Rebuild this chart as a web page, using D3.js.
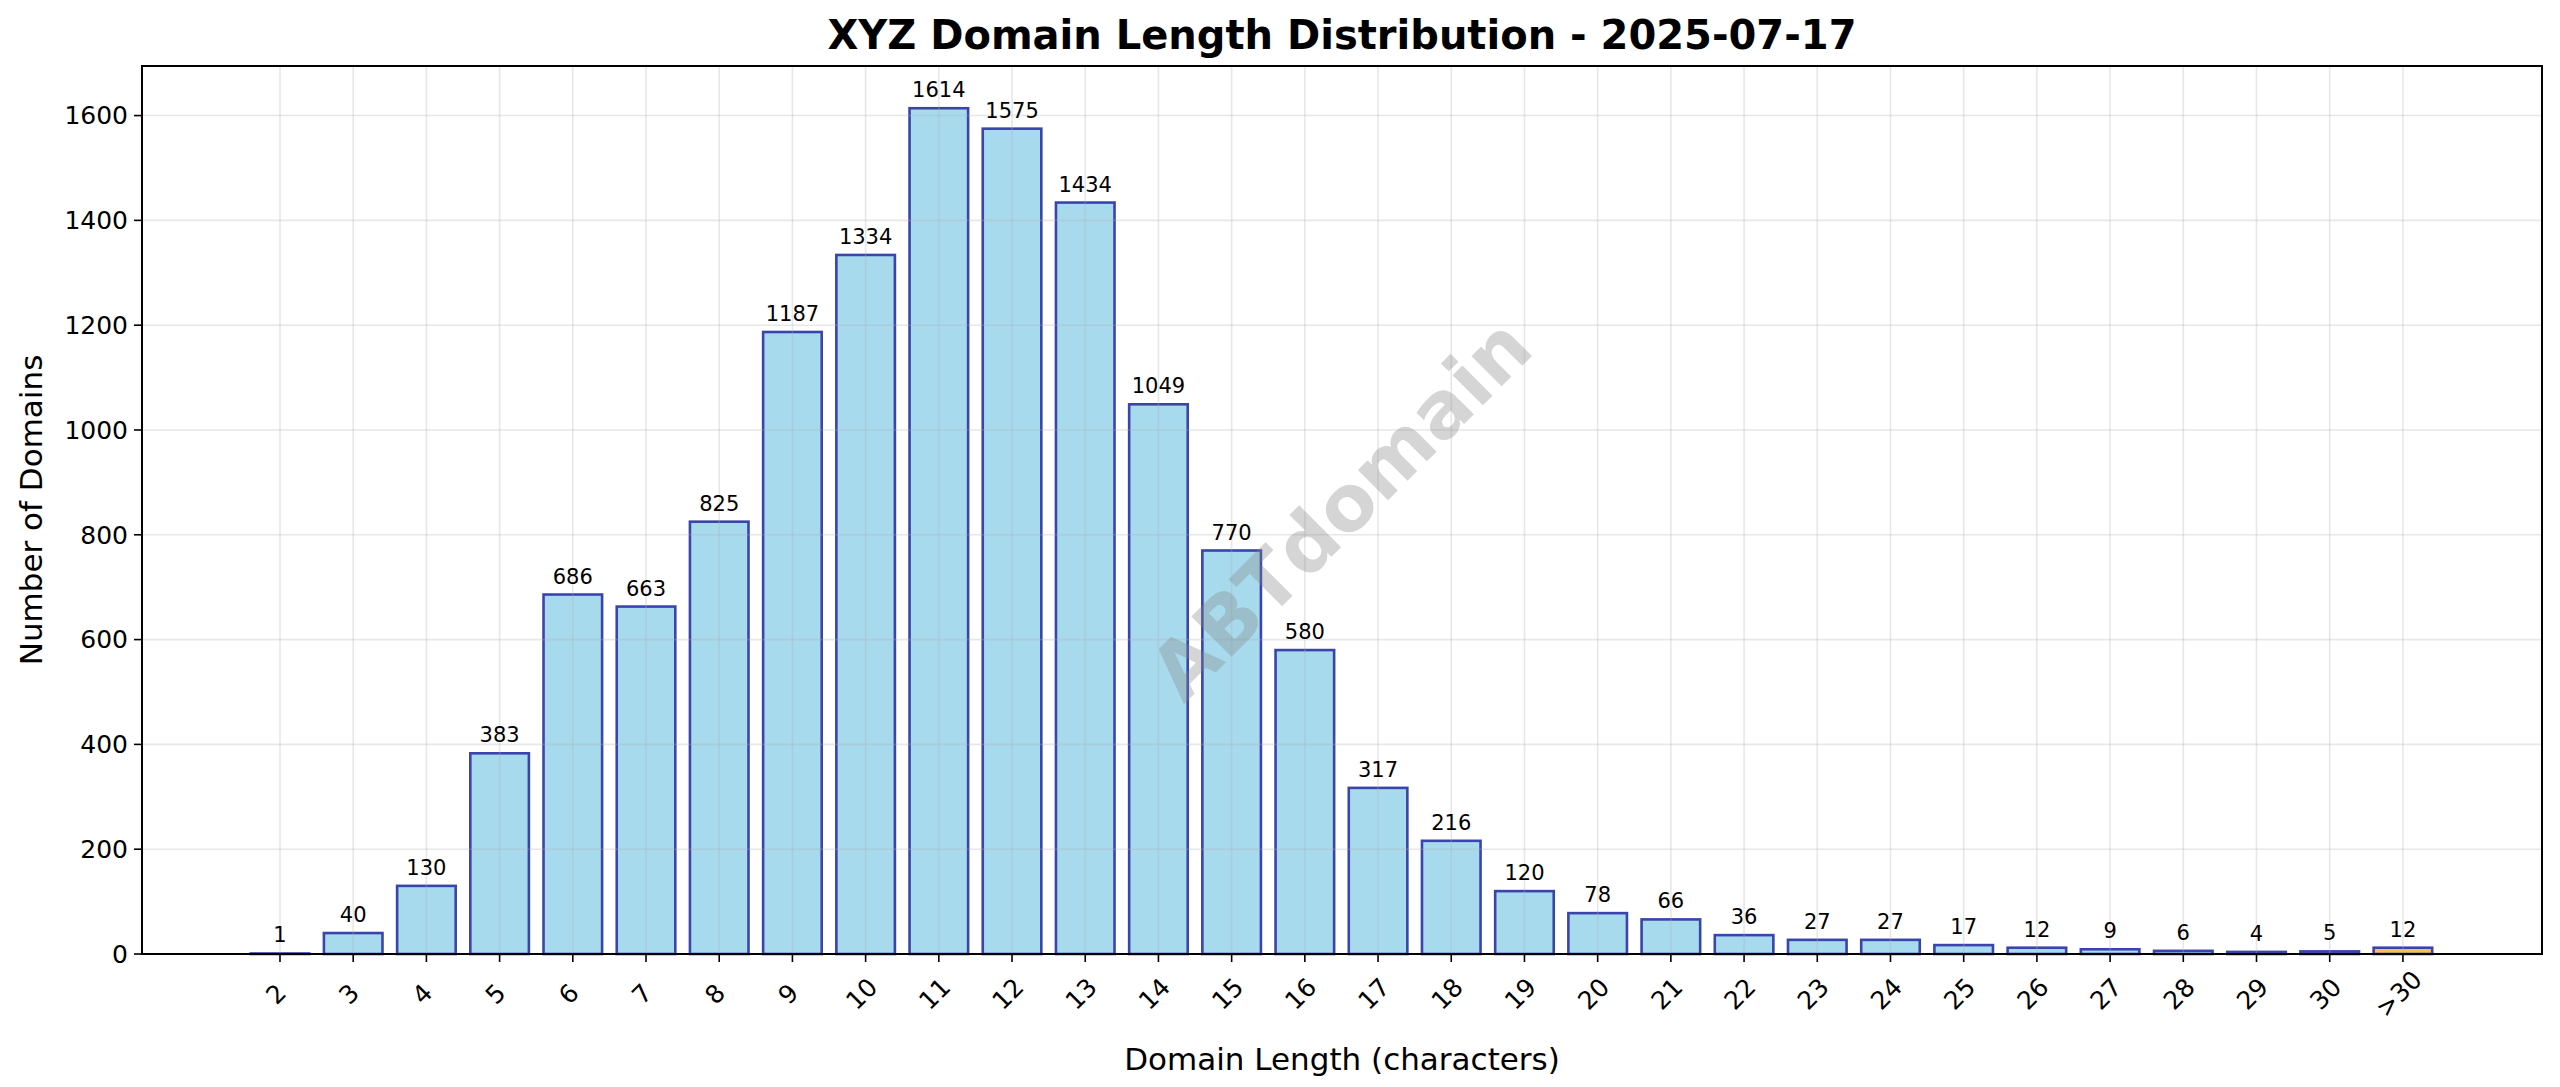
<!DOCTYPE html>
<html><head><meta charset="utf-8">
<script src="https://cdn.jsdelivr.net/npm/d3@7"></script>
<style>body{margin:0;background:#fff}text{font-family:"DejaVu Sans",sans-serif}</style>
</head><body><svg id="c" width="2560" height="1087"></svg>
<script>
const categories = ["2","3","4","5","6","7","8","9","10","11","12","13","14","15","16","17","18","19","20","21","22","23","24","25","26","27","28","29","30",">30"];
const counts = [1,40,130,383,686,663,825,1187,1334,1614,1575,1434,1049,770,580,317,216,120,78,66,36,27,27,17,12,9,6,4,5,12];
const yTicks = [0,200,400,600,800,1000,1200,1400,1600];

const svg = d3.select("#c");
const L=142,R=2542,T=66,B=954;
const x = d3.scaleLinear().domain([-1.885,30.9]).range([L,R]);
const y = d3.scaleLinear().domain([0,1694.6]).range([B,T]);
const bw = x(0.8)-x(0);

svg.append("g").selectAll("rect").data(counts).join("rect")
  .attr("x",(d,i)=>x(i)-bw/2).attr("width",bw)
  .attr("y",d=>y(d)).attr("height",d=>B-y(d))
  .attr("fill",(d,i)=>categories[i]===">30"?"#ffc14d":"#a8daee")
  .attr("stroke","#3a44aa").attr("stroke-width",2.6);

const g = svg.append("g").attr("stroke","#b0b0b0").attr("stroke-opacity",0.3).attr("stroke-width",1.6);
g.selectAll(".v").data(categories).join("line").attr("x1",(d,i)=>x(i)).attr("x2",(d,i)=>x(i)).attr("y1",T).attr("y2",B);
g.selectAll(".h").data(yTicks).join("line").attr("x1",L).attr("x2",R).attr("y1",d=>y(d)).attr("y2",d=>y(d));

svg.append("g").selectAll("text").data(counts).join("text")
  .attr("x",(d,i)=>x(i)).attr("y",d=>y(d)-11).attr("text-anchor","middle")
  .attr("font-size",21).text(d=>d);

svg.append("text").attr("transform","translate(1341,509) rotate(-45)")
  .attr("text-anchor","middle").attr("dominant-baseline","central")
  .attr("font-size",78).attr("font-weight","bold").attr("fill","#888").attr("fill-opacity",0.35)
  .text("ABTdomain");

svg.append("rect").attr("x",L).attr("y",T).attr("width",R-L).attr("height",B-T)
  .attr("fill","none").attr("stroke","#000").attr("stroke-width",2);

const ya = svg.append("g");
yTicks.forEach(v=>{
  ya.append("line").attr("x1",L-8).attr("x2",L).attr("y1",y(v)).attr("y2",y(v)).attr("stroke","#000").attr("stroke-width",1.6);
  ya.append("text").attr("x",L-14).attr("y",y(v)).attr("dy","0.35em").attr("text-anchor","end").attr("font-size",25).text(v);
});
const xa = svg.append("g");
categories.forEach((c,i)=>{
  xa.append("line").attr("x1",x(i)).attr("x2",x(i)).attr("y1",B).attr("y2",B+8).attr("stroke","#000").attr("stroke-width",1.6);
  xa.append("text").attr("transform",`translate(${x(i)-4},${B+40}) rotate(-45)`)
    .attr("text-anchor","middle").attr("dominant-baseline","central").attr("font-size",25).text(c);
});

svg.append("text").attr("x",(L+R)/2).attr("y",49).attr("text-anchor","middle")
  .attr("font-size",40).attr("font-weight","bold").text("XYZ Domain Length Distribution - 2025-07-17");
svg.append("text").attr("x",(L+R)/2).attr("y",1070).attr("text-anchor","middle")
  .attr("font-size",31).text("Domain Length (characters)");
svg.append("text").attr("transform",`translate(42,${(T+B)/2}) rotate(-90)`).attr("text-anchor","middle")
  .attr("font-size",31).text("Number of Domains");
</script></body></html>
